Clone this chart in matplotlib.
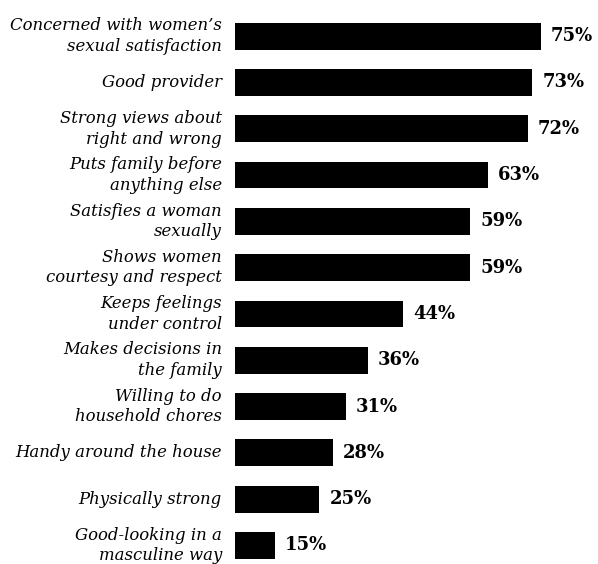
import matplotlib.pyplot as plt

# Traits a man should have (share of women who say so)
traits = [
    "Concerned with women\u2019s\nsexual satisfaction",
    "Good provider",
    "Strong views about\nright and wrong",
    "Puts family before\nanything else",
    "Satisfies a woman\nsexually",
    "Shows women\ncourtesy and respect",
    "Keeps feelings\nunder control",
    "Makes decisions in\nthe family",
    "Willing to do\nhousehold chores",
    "Handy around the house",
    "Physically strong",
    "Good-looking in a\nmasculine way",
]
percents = [75, 73, 72, 63, 59, 59, 44, 36, 31, 28, 25, 15]

fig = plt.figure(figsize=(5.98, 5.64), dpi=100)
# axes left edge sits where the bars start in the original print
ax = fig.add_axes([235 / 598, 0, 363 / 598, 1])

y = list(range(len(traits)))
ax.barh(y, percents, height=0.58, color="black", left=0)

# the print crops the bars, baseline sits at about 6%
ax.set_xlim(6.0, 87.9)
ax.set_ylim(11.4, -0.78)
ax.axis("off")

for yi, label, pct in zip(y, traits, percents):
    ax.text(-0.036, yi, label,
            transform=ax.get_yaxis_transform(), ha="right", va="center",
            family="DejaVu Serif", style="italic", fontsize=11.9,
            linespacing=1.28)
    ax.text(pct + 2.3, yi, f"{pct}%", ha="left", va="center",
            family="DejaVu Serif", weight="bold", fontsize=13)

fig.savefig("out.png", dpi=100, facecolor="white")
